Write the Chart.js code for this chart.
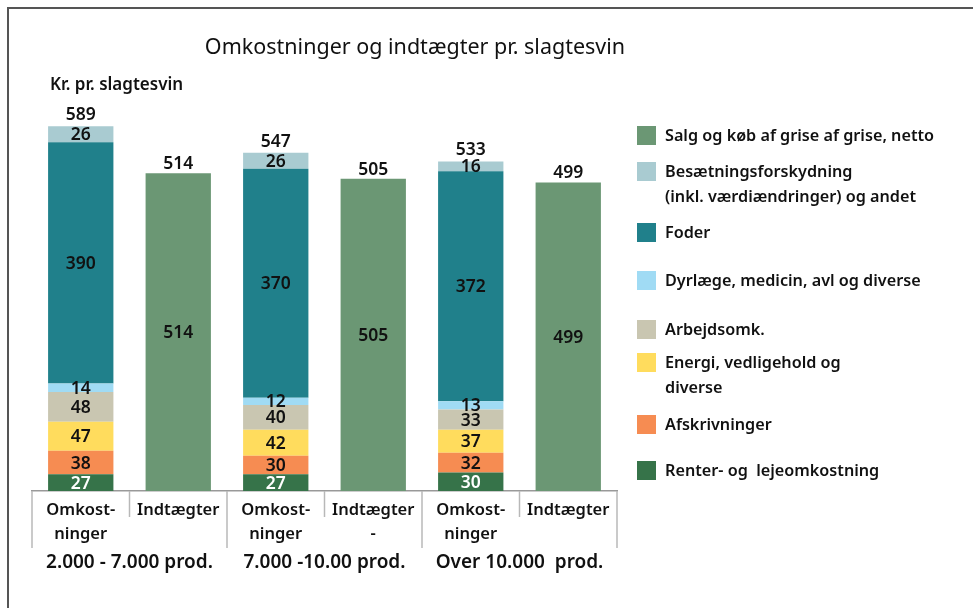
<!DOCTYPE html>
<html>
<head>
<meta charset="utf-8">
<script src="https://cdn.jsdelivr.net/npm/chart.js@4.4.1/dist/chart.umd.min.js"></script>
<style>
  html, body { margin: 0; padding: 0; background: #fff; overflow: hidden; }
  body { width: 973px; height: 608px; position: relative; font-family: "Noto Sans", Lato, sans-serif; color: #111; }
  #frame { position: absolute; left: 7px; top: 7px; width: 1000px; height: 700px; border: 2px solid #555; box-sizing: border-box; }
  #wrap { position: absolute; left: 0; top: 0; width: 973px; height: 608px; }
  #title { position: absolute; left: 0; width: 830px; top: 31px; text-align: center; font-size: 21.5px; white-space: pre; }
  #ylabel { position: absolute; left: 50px; top: 72px; font-size: 17px; font-weight: 600; }
  #legend { position: absolute; left: 0; top: 0; }
  .item { position: absolute; left: 637px; font-size: 16.2px; line-height: 25px; white-space: pre; font-weight: 600; }
  .item .sw { position: absolute; left: 0; width: 19px; height: 19px; }
  .item .tx { position: absolute; left: 28px; }
</style>
</head>
<body>
<div id="frame"></div>
<div id="wrap"><canvas id="chart" width="973" height="608"></canvas></div>
<div id="title">Omkostninger og indtægter pr. slagtesvin</div>
<div id="ylabel">Kr. pr. slagtesvin</div>
<div id="legend"></div>
<script>
const categories = [["Omkost-", "ninger"], "Indtægter", ["Omkost-", "ninger"], ["Indtægter", "-"], ["Omkost-", "ninger"], "Indtægter"];
const groupLabels = ["2.000 - 7.000 prod.", "7.000 -10.00 prod.", "Over 10.000  prod."];

const renter = [27, null, 27, null, 30, null];
const afskrivninger = [38, null, 30, null, 32, null];
const energi = [47, null, 42, null, 37, null];
const arbejdsomk = [48, null, 40, null, 33, null];
const dyrlaege = [14, null, 12, null, 13, null];
const foder = [390, null, 370, null, 372, null];
const besaetning = [26, null, 26, null, 16, null];
const salg = [null, 514, null, 505, null, 499];
const costTotals = [589, null, 547, null, 533, null];

const datasets = [
  { label: "Renter- og  lejeomkostning", data: renter, backgroundColor: "#367349", textColor: "#fff" },
  { label: "Afskrivninger", data: afskrivninger, backgroundColor: "#f68c52" },
  { label: "Energi, vedligehold og\ndiverse", data: energi, backgroundColor: "#ffdc5d" },
  { label: "Arbejdsomk.", data: arbejdsomk, backgroundColor: "#c9c6b1" },
  { label: "Dyrlæge, medicin, avl og diverse", data: dyrlaege, backgroundColor: "#a0dbf4" },
  { label: "Foder", data: foder, backgroundColor: "#20808b" },
  { label: "Besætningsforskydning\n(inkl. værdiændringer) og andet", data: besaetning, backgroundColor: "#a9cbd1" },
  { label: "Salg og køb af grise af grise, netto", data: salg, backgroundColor: "#6b9774", topLabel: true }
];

// legend, top to bottom
const legendTops = [126, 162, 223, 271, 320, 353, 415, 461];
const legendEl = document.getElementById("legend");
datasets.slice().reverse().forEach((ds, i) => {
  const item = document.createElement("div");
  item.className = "item";
  item.style.top = legendTops[i] + "px";
  const sw = document.createElement("div");
  sw.className = "sw";
  sw.style.background = ds.backgroundColor;
  const tx = document.createElement("div");
  tx.className = "tx";
  tx.style.top = "-3px";
  tx.textContent = ds.label;
  item.appendChild(sw);
  item.appendChild(tx);
  legendEl.appendChild(item);
});

const FONT = "'Noto Sans', Lato, sans-serif";

const labelPlugin = {
  id: "labels",
  afterDatasetsDraw(chart) {
    const ctx = chart.ctx;
    ctx.save();
    ctx.font = "600 17.5px " + FONT;
    ctx.textAlign = "center";
    ctx.textBaseline = "middle";
    chart.data.datasets.forEach((ds, di) => {
      const meta = chart.getDatasetMeta(di);
      meta.data.forEach((bar, i) => {
        const v = ds.data[i];
        if (v == null) return;
        ctx.fillStyle = ds.textColor || "#111";
        ctx.fillText(String(v), bar.x, (bar.y + bar.base) / 2 + 1);
        if (ds.topLabel) {
          ctx.fillStyle = "#111";
          ctx.fillText(String(v), bar.x, bar.y - 9);
        }
      });
    });
    // totals above cost bars
    const topMeta = chart.getDatasetMeta(6);
    costTotals.forEach((t, i) => {
      if (t == null) return;
      const bar = topMeta.data[i];
      ctx.fillStyle = "#111";
      ctx.fillText(String(t), bar.x, bar.y - 11);
    });
    ctx.restore();
  }
};

const axisPlugin = {
  id: "axisGrid",
  afterDraw(chart) {
    const ctx = chart.ctx;
    const x = chart.scales.x;
    const base = chart.chartArea.bottom;
    const half = (x.getPixelForValue(1) - x.getPixelForValue(0)) / 2;
    ctx.save();
    ctx.strokeStyle = "#b8b8b8";
    ctx.lineWidth = 1.5;
    for (let i = 0; i <= categories.length; i++) {
      const px = x.getPixelForValue(i) - half;
      const long = i % 2 === 0;
      ctx.beginPath();
      ctx.moveTo(px, base);
      ctx.lineTo(px, long ? base + 57 : base + 26);
      ctx.stroke();
    }
    ctx.fillStyle = "#111";
    ctx.font = "600 19px " + FONT;
    ctx.textAlign = "center";
    ctx.textBaseline = "middle";
    groupLabels.forEach((g, gi) => {
      const cx = (x.getPixelForValue(gi * 2) + x.getPixelForValue(gi * 2 + 1)) / 2;
      ctx.fillText(g, cx, base + 72);
    });
    ctx.restore();
  }
};

new Chart(document.getElementById("chart"), {
  type: "bar",
  data: {
    labels: categories,
    datasets: datasets.map((d) => ({
      label: d.label,
      data: d.data,
      backgroundColor: d.backgroundColor,
      textColor: d.textColor,
      topLabel: d.topLabel,
      borderWidth: 0,
      categoryPercentage: 1,
      barPercentage: 0.67
    }))
  },
  options: {
    responsive: false,
    animation: false,
    layout: { padding: { left: 32, right: 356, top: 120, bottom: 0 } },
    plugins: { legend: { display: false }, tooltip: { enabled: false }, title: { display: false } },
    scales: {
      x: {
        stacked: true,
        grid: { display: false, drawTicks: false },
        border: { display: true, color: "#999", width: 1.5 },
        ticks: { color: "#111", font: { family: FONT, size: 16.5, weight: 600, lineHeight: 1.45 }, padding: 7, maxRotation: 0, autoSkip: false },
        afterFit(scale) { scale.height = 117; }
      },
      y: {
        stacked: true,
        display: false,
        min: 0,
        max: 600
      }
    }
  },
  plugins: [labelPlugin, axisPlugin]
});
</script>
</body>
</html>
